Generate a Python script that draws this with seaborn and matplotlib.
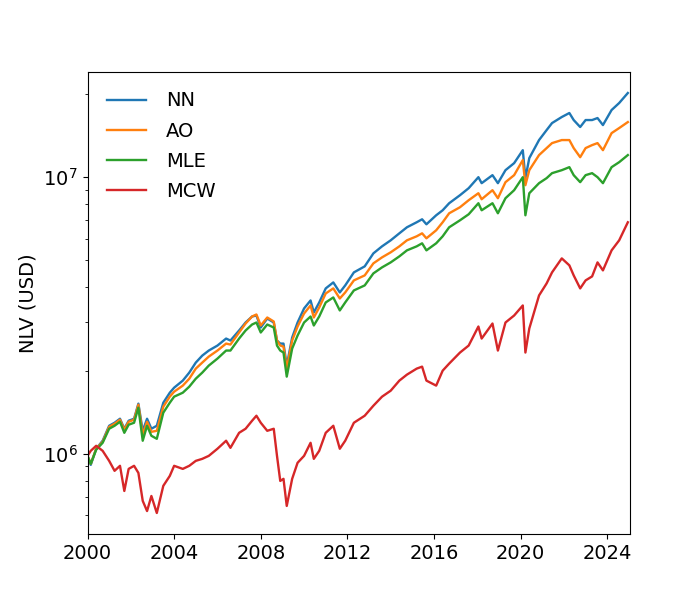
import numpy as np
import pandas as pd
import matplotlib
matplotlib.use('Agg')
import matplotlib.pyplot as plt
import seaborn as sns
from matplotlib.ticker import MultipleLocator, FormatStrFormatter

years = [2000.0, 2000.15, 2000.4, 2000.7, 2001.0, 2001.25, 2001.5, 2001.7, 2001.9, 2002.15,
         2002.35, 2002.55, 2002.75, 2002.95, 2003.2, 2003.5, 2003.8, 2004.0, 2004.4, 2004.7,
         2005.0, 2005.3, 2005.6, 2006.0, 2006.4, 2006.6, 2007.0, 2007.3, 2007.6, 2007.8,
         2008.0, 2008.3, 2008.6, 2008.75, 2008.9, 2009.05, 2009.2, 2009.45, 2009.7, 2010.0,
         2010.3, 2010.45, 2010.7, 2011.0, 2011.35, 2011.65, 2011.9, 2012.3, 2012.8, 2013.2,
         2013.6, 2014.0, 2014.4, 2014.75, 2015.2, 2015.45, 2015.65, 2016.1, 2016.4, 2016.7,
         2017.2, 2017.6, 2018.05, 2018.2, 2018.7, 2018.95, 2019.3, 2019.7, 2020.1, 2020.22,
         2020.4, 2020.85, 2021.2, 2021.45, 2021.9, 2022.25, 2022.45, 2022.75, 2023.0, 2023.3,
         2023.55, 2023.8, 2024.2, 2024.55, 2024.95]

# net liquidation value, millions of USD
nn = [0.983, 0.912, 1.043, 1.115, 1.263, 1.295, 1.339, 1.232, 1.317, 1.339,
      1.518, 1.211, 1.339, 1.232, 1.263, 1.530, 1.663, 1.734, 1.839, 1.966,
      2.137, 2.265, 2.362, 2.462, 2.610, 2.567, 2.791, 2.983, 3.136, 3.162,
      2.861, 3.084, 2.983, 2.567, 2.503, 2.503, 2.084, 2.632, 2.983, 3.353,
      3.584, 3.243, 3.525, 3.962, 4.165, 3.831, 4.062, 4.527, 4.760, 5.303,
      5.623, 5.912, 6.267, 6.590, 6.871, 7.044, 6.756, 7.282, 7.592, 8.051,
      8.607, 9.124, 10.00, 9.513, 10.17, 9.513, 10.60, 11.24, 12.52, 9.92,
      11.72, 13.62, 14.80, 15.69, 16.50, 17.06, 16.09, 15.18, 16.09, 16.09,
      16.36, 15.43, 17.49, 18.54, 20.15]

ao = [0.983, 0.920, 1.043, 1.105, 1.252, 1.284, 1.328, 1.222, 1.306, 1.328,
      1.505, 1.172, 1.306, 1.201, 1.211, 1.480, 1.609, 1.677, 1.764, 1.869,
      2.032, 2.137, 2.246, 2.362, 2.503, 2.483, 2.745, 2.958, 3.136, 3.189,
      2.910, 3.110, 3.008, 2.567, 2.462, 2.441, 2.032, 2.567, 2.885, 3.215,
      3.438, 3.110, 3.381, 3.799, 3.962, 3.643, 3.831, 4.235, 4.415, 4.880,
      5.130, 5.350, 5.623, 5.912, 6.113, 6.267, 6.012, 6.427, 6.871, 7.405,
      7.787, 8.254, 8.750, 8.323, 8.973, 8.393, 9.592, 10.17, 11.53, 9.354,
      10.60, 12.02, 12.74, 13.28, 13.62, 13.62, 12.74, 11.81, 12.74, 13.06,
      13.28, 12.52, 14.43, 15.05, 15.82]

mle = [0.983, 0.920, 1.034, 1.096, 1.232, 1.263, 1.306, 1.191, 1.274, 1.295,
       1.468, 1.115, 1.263, 1.162, 1.133, 1.408, 1.530, 1.609, 1.663, 1.749,
       1.869, 1.966, 2.084, 2.209, 2.362, 2.362, 2.610, 2.791, 2.934, 2.983,
       2.745, 2.934, 2.861, 2.462, 2.362, 2.323, 1.901, 2.401, 2.676, 2.983,
       3.136, 2.910, 3.136, 3.525, 3.675, 3.298, 3.525, 3.896, 4.062, 4.489,
       4.720, 4.920, 5.173, 5.438, 5.623, 5.767, 5.438, 5.767, 6.113, 6.590,
       6.985, 7.343, 8.051, 7.592, 8.051, 7.405, 8.393, 8.973, 10.00, 7.282,
       8.750, 9.513, 9.92, 10.34, 10.60, 10.87, 10.17, 9.592, 10.17, 10.34,
       10.00, 9.513, 10.87, 11.33, 12.02]

mcw = [0.983, 1.025, 1.069, 1.025, 0.943, 0.868, 0.905, 0.734, 0.882, 0.905,
       0.853, 0.676, 0.621, 0.704, 0.611, 0.766, 0.832, 0.905, 0.882, 0.905,
       0.943, 0.959, 0.983, 1.043, 1.115, 1.051, 1.191, 1.232, 1.317, 1.373,
       1.295, 1.211, 1.232, 0.983, 0.798, 0.812, 0.648, 0.812, 0.928, 0.983,
       1.096, 0.959, 1.025, 1.191, 1.263, 1.043, 1.115, 1.295, 1.373, 1.492,
       1.609, 1.691, 1.839, 1.933, 2.032, 2.066, 1.839, 1.764, 1.998, 2.119,
       2.323, 2.462, 2.885, 2.610, 2.958, 2.362, 2.983, 3.162, 3.438, 2.323,
       2.838, 3.737, 4.130, 4.527, 5.087, 4.800, 4.415, 3.962, 4.235, 4.378,
       4.920, 4.603, 5.438, 5.912, 6.871]

strategies = ['NN', 'AO', 'MLE', 'MCW']
colors = ['#1f77b4', '#ff7f0e', '#2ca02c', '#d62728']

frames = []
for name, vals in zip(strategies, [nn, ao, mle, mcw]):
    frames.append(pd.DataFrame({'year': years, 'nlv': np.array(vals) * 1e6, 'strategy': name}))
df = pd.concat(frames, ignore_index=True)

fig, ax = plt.subplots(figsize=(7, 6), dpi=100)
sns.lineplot(data=df, x='year', y='nlv', hue='strategy', hue_order=strategies,
             palette=colors, estimator=None, lw=1.7, ax=ax)

ax.set_yscale('log')
ax.set_xlim(2000, 2025.05)
ax.set_ylim(5.13e5, 2.40e7)
ax.xaxis.set_major_locator(MultipleLocator(4))
ax.xaxis.set_major_formatter(FormatStrFormatter('%d'))
ax.tick_params(labelsize=14)
ax.set_xlabel('')
ax.set_ylabel('NLV (USD)', fontsize=14)
ax.legend(loc='upper left', frameon=False, fontsize=14,
          labelspacing=0.58, handletextpad=1.05, borderaxespad=0.6)

plt.savefig('out.png', dpi=100)
plt.close()
